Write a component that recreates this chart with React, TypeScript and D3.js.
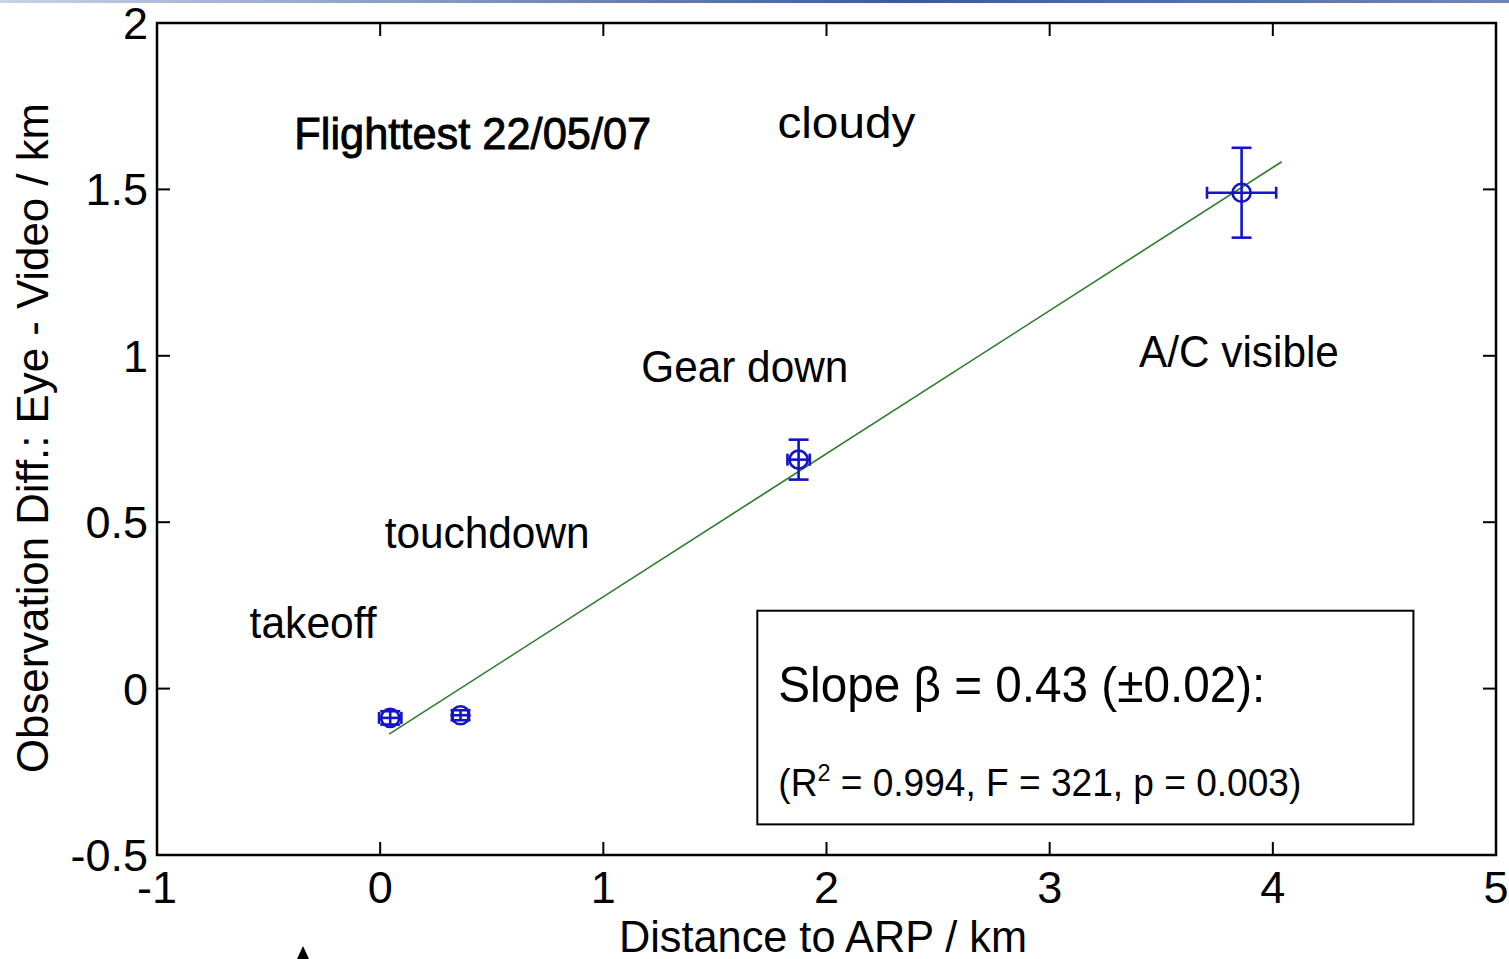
import React from 'react';
import * as d3 from 'd3';

// measurements: distance to ARP (km) vs observation difference eye - video (km)
const distance = [0.045, 0.36, 1.875, 3.86];
const obsDiff = [-0.088, -0.08, 0.688, 1.49];
const distErr = [0.05, 0.035, 0.05, 0.155];
const diffErr = [0.02, 0.015, 0.06, 0.135];

// regression fit
const fitSlope = 0.43;
const fitIntercept = -0.154;
const fitRange = [0.04, 4.04];

const xTicks = [-1, 0, 1, 2, 3, 4, 5];
const yTicks = [-0.5, 0, 0.5, 1, 1.5, 2];

const notes = [
  { text: 'Flighttest 22/05/07', x: -0.385, y: 1.62, len: 357, heavy: true },
  { text: 'cloudy', x: 1.78, y: 1.655, len: 138, heavy: false },
  { text: 'Gear down', x: 1.17, y: 0.92, len: 207, heavy: false },
  { text: 'A/C visible', x: 3.4, y: 0.967, len: 200, heavy: false },
  { text: 'touchdown', x: 0.02, y: 0.423, len: 205, heavy: false },
  { text: 'takeoff', x: -0.585, y: 0.153, len: 127, heavy: false },
];

const W = 1509;
const H = 959;
const FONT = '"Liberation Sans", Arial, Helvetica, sans-serif';
const BLUE = '#1414c8';

const App = () => {
  const x = d3.scaleLinear().domain([-1, 5]).range([157, 1496]);
  const y = d3.scaleLinear().domain([-0.5, 2]).range([855, 23]);
  const [x0, x1] = x.range();
  const [yb, yt] = y.range();
  const tick = 13;

  const fitLine = d3.line<number>()
    .x(d => x(d))
    .y(d => y(fitIntercept + fitSlope * d));

  return (
    <svg width={W} height={H} style={{ position: 'absolute', left: 0, top: 0, background: '#fff' }}>
      <defs>
        <linearGradient id="strip" x1="0" x2="1">
          <stop offset="0" stopColor="#c8d2e8" />
          <stop offset="0.6" stopColor="#3c5a9c" />
          <stop offset="1" stopColor="#6f86bb" />
        </linearGradient>
      </defs>
      <rect x={0} y={0} width={W} height={3} fill="url(#strip)" />

      {/* fit line */}
      <path d={fitLine(fitRange) ?? ''} fill="none" stroke="#2e7d2e" strokeWidth={1.6} />

      {/* error bars and markers */}
      {distance.map((d, i) => {
        const cx = x(d);
        const cy = y(obsDiff[i]);
        const xl = x(d - distErr[i]);
        const xr = x(d + distErr[i]);
        const yu = y(obsDiff[i] + diffErr[i]);
        const yd = y(obsDiff[i] - diffErr[i]);
        return (
          <g key={i} stroke={BLUE} strokeWidth={2.6} fill="none">
            <line x1={cx} x2={cx} y1={yu} y2={yd} />
            <line x1={cx - 10} x2={cx + 10} y1={yu} y2={yu} />
            <line x1={cx - 10} x2={cx + 10} y1={yd} y2={yd} />
            <line x1={xl} x2={xr} y1={cy} y2={cy} />
            <line x1={xl} x2={xl} y1={cy - 6} y2={cy + 6} />
            <line x1={xr} x2={xr} y1={cy - 6} y2={cy + 6} />
            <circle cx={cx} cy={cy} r={9} />
          </g>
        );
      })}

      {/* axes box */}
      <rect x={x0} y={yt} width={x1 - x0} height={yb - yt} fill="none" stroke="#000" strokeWidth={2.5} />
      {xTicks.map(t => (
        <g key={'x' + t}>
          <line x1={x(t)} x2={x(t)} y1={yb} y2={yb - tick} stroke="#000" strokeWidth={2} />
          <line x1={x(t)} x2={x(t)} y1={yt} y2={yt + tick} stroke="#000" strokeWidth={2} />
          <text x={x(t)} y={903} fontSize={45} fontFamily={FONT} textAnchor="middle">{t}</text>
        </g>
      ))}
      {yTicks.map(t => (
        <g key={'y' + t}>
          <line x1={x0} x2={x0 + tick} y1={y(t)} y2={y(t)} stroke="#000" strokeWidth={2} />
          <line x1={x1} x2={x1 - tick} y1={y(t)} y2={y(t)} stroke="#000" strokeWidth={2} />
          <text x={148} y={y(t) + 16} fontSize={45} fontFamily={FONT} textAnchor="end">{t}</text>
        </g>
      ))}

      <text x={823} y={952} fontSize={45} fontFamily={FONT} textAnchor="middle"
        textLength={408} lengthAdjust="spacingAndGlyphs">Distance to ARP / km</text>
      <text transform={`translate(48, 438) rotate(-90)`} fontSize={45} fontFamily={FONT} textAnchor="middle"
        textLength={670} lengthAdjust="spacingAndGlyphs">
        Observation Diff.: Eye - Video / km
      </text>

      {/* annotations */}
      {notes.map(n => (
        <text key={n.text} x={x(n.x)} y={y(n.y)} fontSize={45} fontFamily={FONT}
          stroke={n.heavy ? '#000' : 'none'} strokeWidth={n.heavy ? 0.9 : 0}
          textLength={n.len} lengthAdjust="spacingAndGlyphs">{n.text}</text>
      ))}

      {/* statistics box */}
      <rect x={x(1.69)} y={y(0.234)} width={x(4.63) - x(1.69)} height={y(-0.408) - y(0.234)}
        fill="#fff" stroke="#000" strokeWidth={2} />
      <text x={x(1.69) + 21} y={y(0.234) + 91} fontSize={50} fontFamily={FONT}
        textLength={487} lengthAdjust="spacingAndGlyphs">
        Slope β = 0.43 (±0.02):
      </text>
      <text x={x(1.69) + 21} y={y(0.234) + 185} fontSize={38} fontFamily={FONT}
        textLength={523} lengthAdjust="spacingAndGlyphs">
        (R<tspan fontSize={24} dy={-15}>2</tspan><tspan dy={15}> = 0.994, F = 321, p = 0.003)</tspan>
      </text>

      <path d="M303,946 L297,959 L309,959 Z" fill="#000" />
    </svg>
  );
};

export default App;
